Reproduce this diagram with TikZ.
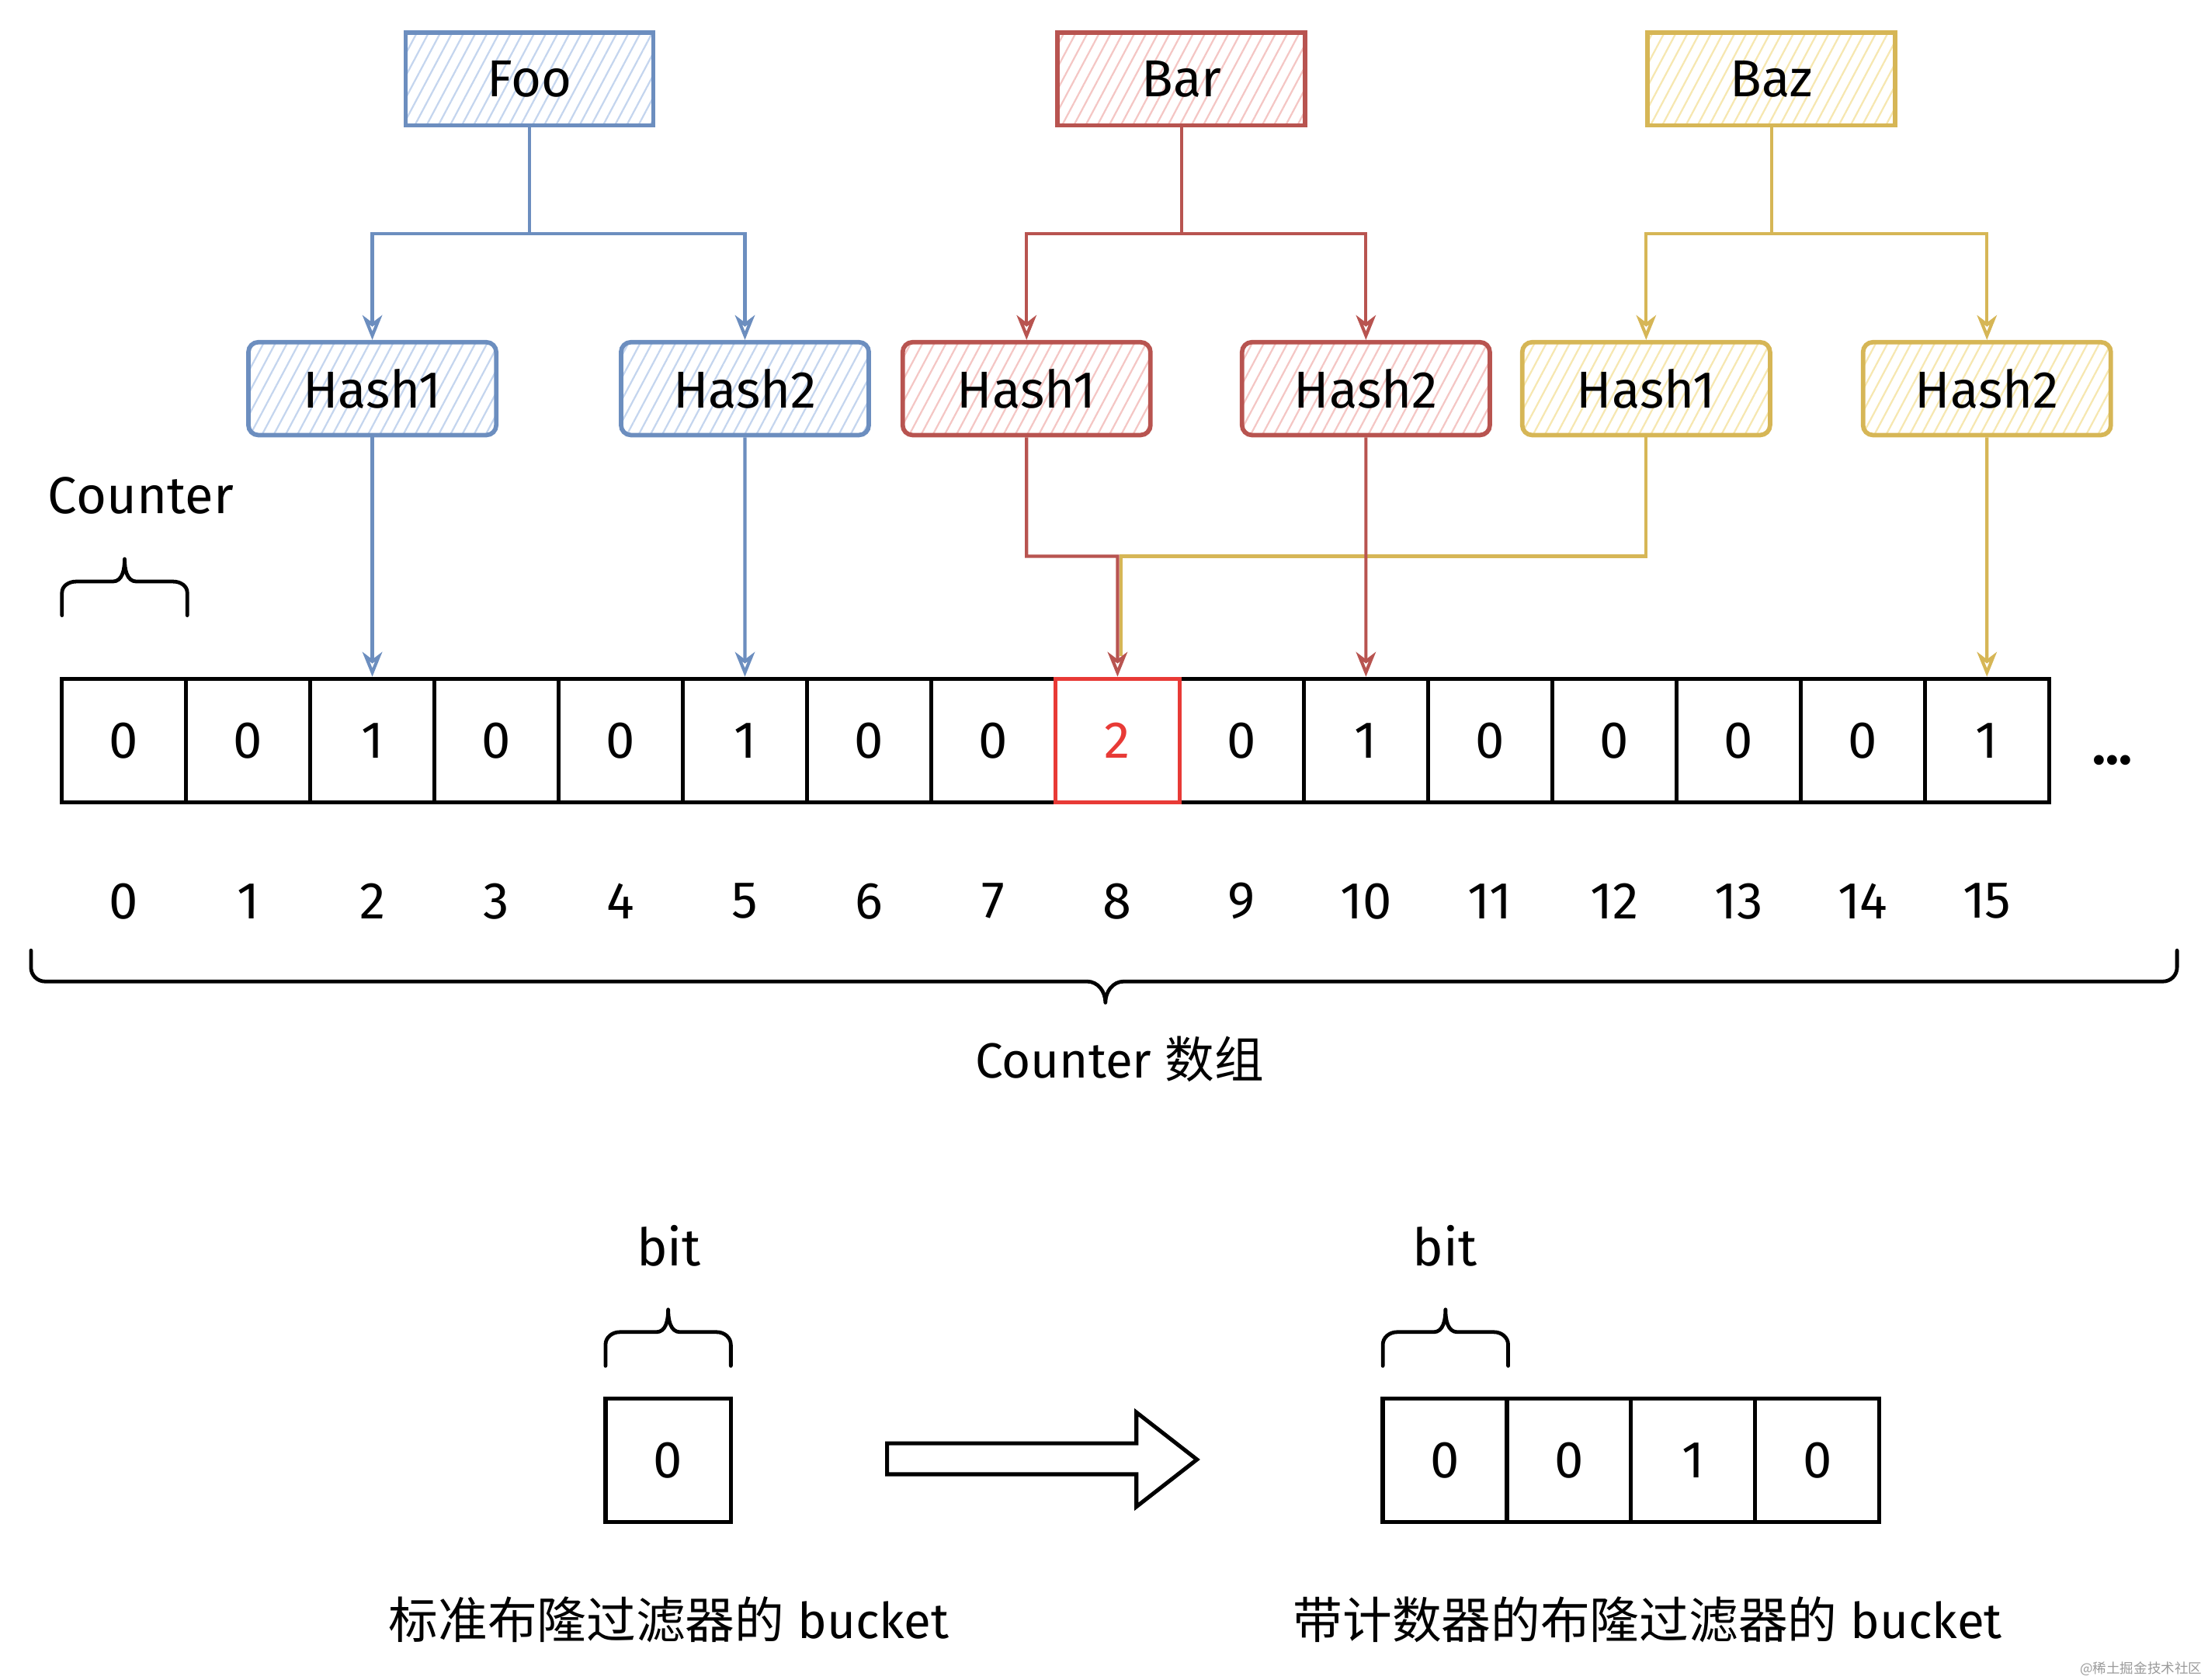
\documentclass[tikz,border=0pt]{standalone}
\usepackage{fontspec}
\setmainfont{Fira Sans}
\newfontfamily\cjk{Noto Sans CJK SC}
\usetikzlibrary{arrows.meta,patterns.meta}
\definecolor{blueS}{HTML}{6C8EBF}
\definecolor{blueH}{HTML}{C4D5EE}
\definecolor{redS}{HTML}{B85450}
\definecolor{redH}{HTML}{F4C6C4}
\definecolor{yelS}{HTML}{D6B656}
\definecolor{yelH}{HTML}{F6E7B0}
\definecolor{hot}{HTML}{E83A36}
\definecolor{wm}{HTML}{9A9A9A}
\tikzset{
  txt/.style={font=\fontsize{21}{25}\selectfont},
  hatch/.style={pattern={Lines[angle=62,distance=4.2pt,line width=0.7pt]}},
  root/.style={txt,draw,line width=1.8pt,minimum width=3.52cm,minimum height=1.32cm,inner sep=0pt,hatch},
  hashbox/.style={root,rounded corners=4pt},
  blueset/.style={draw=blueS,pattern color=blueH},
  redset/.style={draw=redS,pattern color=redH},
  yelset/.style={draw=yelS,pattern color=yelH},
  tip/.style={-{Stealth[open,length=10pt,width=8pt,inset=3pt]}},
  bl/.style={draw=blueS,line width=1.3pt},
  rd/.style={draw=redS,line width=1.3pt},
  yl/.style={draw=yelS,line width=1.3pt},
  cellbox/.style={txt,draw=black,line width=1.6pt,minimum width=1.764cm,minimum height=1.76cm,inner sep=0pt},
  hotcell/.style={cellbox,draw=hot,text=hot},
  idx/.style={txt,inner sep=0pt},
  brc/.style={draw=black,line width=1.5pt,line cap=round,line join=round},
}
\begin{document}
\begin{tikzpicture}[x=0.02cm,y=0.02cm]
\useasboundingbox (0,0) rectangle (1568,-1193.09);

% root boxes
\node[root,blueset] (foo) at (376,-56) {Foo};
\node[root,redset]  (bar) at (839,-56) {Bar};
\node[root,yelset]  (baz) at (1258,-56) {Baz};

% hash boxes
\node[hashbox,blueset] (fh1) at (264.4,-276) {Hash1};
\node[hashbox,blueset] (fh2) at (529,-276) {Hash2};
\node[hashbox,redset]  (bh1) at (729,-276) {Hash1};
\node[hashbox,redset]  (bh2) at (970,-276) {Hash2};
\node[hashbox,yelset]  (zh1) at (1169,-276) {Hash1};
\node[hashbox,yelset]  (zh2) at (1411,-276) {Hash2};

% counter cells
\foreach \i/\v in {0/0,1/0,2/1,3/0,4/0,5/1,6/0,7/0,9/0,10/1,11/0,12/0,13/0,14/0,15/1}{
  \node[cellbox] (c\i) at ({88+88.2*\i},-526) {\v};
}
\node[hotcell] (c8) at ({88+88.2*8},-526) {2};
\foreach \i in {0,...,15}{
  \node[idx] (n\i) at ({88+88.2*\i},-640) {\i};
}
\node[txt,font=\fontsize{22}{26}\selectfont\bfseries] (dots) at (1500,-540) {...};

% tree connectors
\coordinate (fooJ) at (376,-166);
\coordinate (barJ) at (839,-166);
\coordinate (bazJ) at (1258,-166);
\draw[bl] (foo.south) -- (fooJ);
\draw[bl,tip] (fooJ) -| (fh1.north);
\draw[bl,tip] (fooJ) -| (fh2.north);
\draw[rd] (bar.south) -- (barJ);
\draw[rd,tip] (barJ) -| (bh1.north);
\draw[rd,tip] (barJ) -| (bh2.north);
\draw[yl] (baz.south) -- (bazJ);
\draw[yl,tip] (bazJ) -| (zh1.north);
\draw[yl,tip] (bazJ) -| (zh2.north);

% hash -> counter connectors
\coordinate (j8) at (793.6,-395);
\coordinate (j8y) at (796,-395);
\coordinate (j8e) at (796,-466);
\draw[bl,tip] (fh1.south) -- (c2.north);
\draw[bl,tip] (fh2.south) -- (c5.north);
\draw[yl] (zh1.south) |- (j8y) -- (j8e);
\draw[yl,tip] (zh2.south) -- (c15.north);
\draw[rd,tip] (bh1.south) |- (j8) -- (c8.north);
\draw[rd,tip] (bh2.south) -- (c10.north);

% Counter label and small brace
\node[txt] (ctr) at (100,-352) {Counter};
\draw[brc] (44,-437) -- (44,-421) to[out=90,in=180] (54,-413) -- (80,-413)
  to[out=0,in=-90] (88.5,-397) to[out=-90,in=180] (97,-413) -- (123,-413)
  to[out=0,in=90] (133,-421) -- (133,-437);

% big brace
\draw[brc] (22,-675) -- (22,-687) to[out=-90,in=180] (32,-697) -- (772,-697)
  to[out=0,in=90] (785,-712) to[out=90,in=180] (798,-697) -- (1536,-697)
  to[out=0,in=-90] (1546,-687) -- (1546,-675);
\node[txt,font=\fontsize{20}{24}\selectfont] (arr) at (795,-752) {Counter {\cjk 数组}};

% bottom left: standard bucket
\node[txt] (bitL) at (475,-885) {bit};
\draw[brc] (430,-970) -- (430,-955) to[out=90,in=180] (440,-946) -- (466,-946)
  to[out=0,in=-90] (474.5,-930) to[out=-90,in=180] (483,-946) -- (509,-946)
  to[out=0,in=90] (519,-955) -- (519,-970);
\node[cellbox,minimum width=1.78cm] (s0) at (474.5,-1037) {0};
\node[txt,font=\fontsize{20}{24}\selectfont] (capL) at (475,-1150) {{\cjk 标准布隆过滤器的} bucket};

% hollow arrow
\draw[black,line width=1.6pt,line join=miter] (630,-1025) -- (807,-1025) -- (807,-1003) -- (850,-1036.5)
  -- (807,-1070) -- (807,-1047) -- (630,-1047) -- cycle;

% bottom right: counting bucket
\node[txt] (bitR) at (1026,-885) {bit};
\draw[brc] (982,-970) -- (982,-955) to[out=90,in=180] (992,-946) -- (1018,-946)
  to[out=0,in=-90] (1026.5,-930) to[out=-90,in=180] (1035,-946) -- (1061,-946)
  to[out=0,in=90] (1071,-955) -- (1071,-970);
\foreach \i/\v in {0/0,1/0,2/1,3/0}{
  \node[cellbox] (k\i) at ({1026+88.2*\i},-1037) {\v};
}
\node[txt,font=\fontsize{20}{24}\selectfont] (capR) at (1170,-1150) {{\cjk 带计数器的布隆过滤器的} bucket};

% watermark
\node[font=\fontsize{5.5}{6}\selectfont\cjk,text=wm,anchor=east,inner sep=0pt] (wmk) at (1564,-1185) {@稀土掘金技术社区};
\end{tikzpicture}
\end{document}
